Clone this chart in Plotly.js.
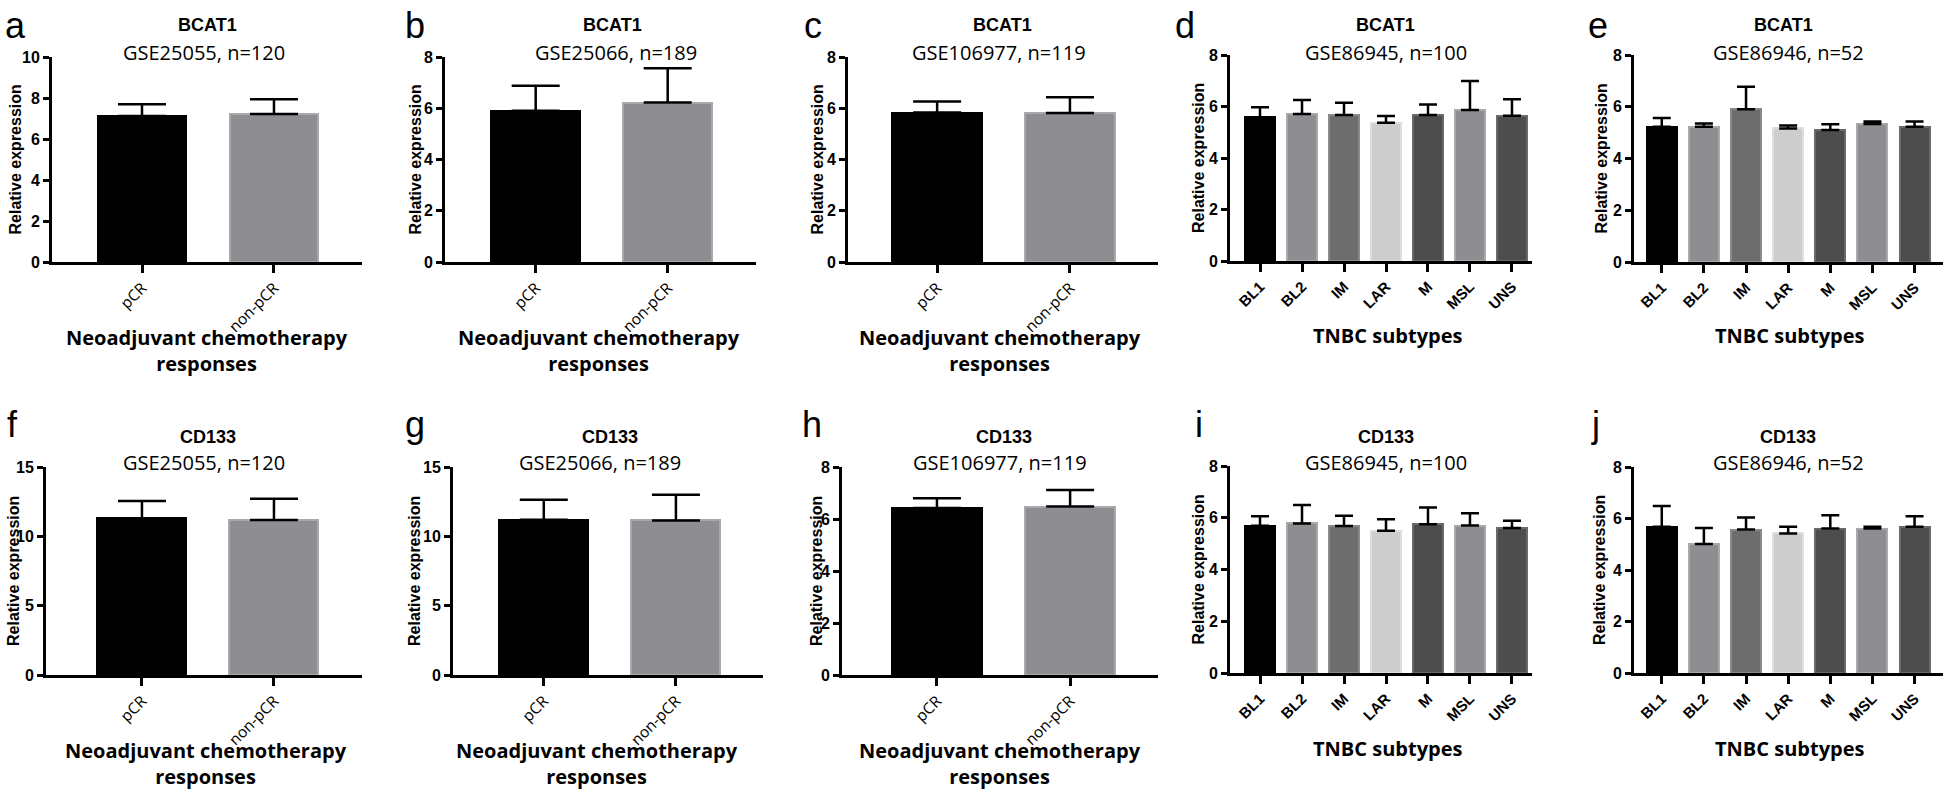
<!DOCTYPE html>
<html>
<head>
<meta charset="utf-8">
<script src="https://cdn.plot.ly/plotly-3.0.1.min.js"></script>
<style>html,body{margin:0;padding:0;background:#fff;}#chart{width:1946px;height:791px;}</style>
</head>
<body>
<div id="chart"></div>
<script>
// ---------------- DATA ----------------
const respCats = ['pCR', 'non-pCR'];
const tnbcCats = ['BL1', 'BL2', 'IM', 'LAR', 'M', 'MSL', 'UNS'];

// BCAT1
const bcatGSE25055Mean = [7.12, 7.22];
const bcatGSE25055SD   = [0.57, 0.72];
const bcatGSE25066Mean = [5.90, 6.22];
const bcatGSE25066SD   = [0.98, 1.34];
const bcatGSE106977Mean = [5.83, 5.81];
const bcatGSE106977SD   = [0.43, 0.62];
const bcatGSE86945Mean = [5.58, 5.71, 5.67, 5.37, 5.67, 5.86, 5.64];
const bcatGSE86945SD   = [0.39, 0.54, 0.48, 0.26, 0.41, 1.13, 0.64];
const bcatGSE86946Mean = [5.23, 5.23, 5.90, 5.16, 5.10, 5.33, 5.23];
const bcatGSE86946SD   = [0.34, 0.12, 0.87, 0.12, 0.22, 0.10, 0.20];

// CD133
const cdGSE25055Mean = [11.30, 11.18];
const cdGSE25055SD   = [1.25, 1.53];
const cdGSE25066Mean = [11.20, 11.15];
const cdGSE25066SD   = [1.44, 1.85];
const cdGSE106977Mean = [6.42, 6.48];
const cdGSE106977SD   = [0.38, 0.64];
const cdGSE86945Mean = [5.69, 5.78, 5.68, 5.50, 5.75, 5.70, 5.60];
const cdGSE86945SD   = [0.37, 0.71, 0.40, 0.44, 0.65, 0.47, 0.28];
const cdGSE86946Mean = [5.68, 5.01, 5.57, 5.42, 5.61, 5.61, 5.68];
const cdGSE86946SD   = [0.81, 0.62, 0.47, 0.26, 0.52, 0.07, 0.41];

const panelLetters = ['a','b','c','d','e','f','g','h','i','j'];
const geneNames = ['BCAT1','BCAT1','BCAT1','BCAT1','BCAT1','CD133','CD133','CD133','CD133','CD133'];
const datasetLabels = ['GSE25055, n=120','GSE25066, n=189','GSE106977, n=119','GSE86945, n=100','GSE86946, n=52',
                       'GSE25055, n=120','GSE25066, n=189','GSE106977, n=119','GSE86945, n=100','GSE86946, n=52'];
const yMax = [10, 8, 8, 8, 8, 15, 15, 8, 8, 8];
const yStep = [2, 2, 2, 2, 2, 5, 5, 2, 2, 2];
const respTitle = 'Neoadjuvant chemotherapy<br>responses';
const tnbcTitle = 'TNBC subtypes';
const yTitle = 'Relative expression';

const means = [bcatGSE25055Mean, bcatGSE25066Mean, bcatGSE106977Mean, bcatGSE86945Mean, bcatGSE86946Mean,
               cdGSE25055Mean, cdGSE25066Mean, cdGSE106977Mean, cdGSE86945Mean, cdGSE86946Mean];
const sds = [bcatGSE25055SD, bcatGSE25066SD, bcatGSE106977SD, bcatGSE86945SD, bcatGSE86946SD,
             cdGSE25055SD, cdGSE25066SD, cdGSE106977SD, cdGSE86945SD, cdGSE86946SD];
const isTnbc = [false,false,false,true,true,false,false,false,true,true];

// ---------------- STYLE / GEOMETRY ----------------
const W = 1946, H = 791;
// [x0, x1, yTop, yZero] in px
const geom = [
  [52, 362, 57, 262], [445, 756, 57, 262], [848, 1158, 57, 262], [1230, 1532, 55, 261], [1634, 1943, 55, 262],
  [46, 362, 467, 675], [453, 763, 467, 675], [842, 1158, 467, 675], [1230, 1532, 466, 673], [1634, 1943, 467, 673]
];
const xRanges = [
  [-0.682, 1.667], [-0.687, 1.669], [-0.671, 1.663], [-0.715, 6.477], [-0.659, 6.675],
  [-0.727, 1.667], [-0.687, 1.659], [-0.713, 1.66], [-0.715, 6.477], [-0.659, 6.675]
];
const letterPos = [[3,25],[403,25],[802,25],[1173,25],[1586,25],[5,425],[403,425],[800,425],[1193,425],[1589,425]];
const titlePos = [[207,25],[612,25],[1003,25],[1385,25],[1783,25],[208,437],[610,437],[1004,437],[1386,437],[1788,437]];
const subPos = [[204,52],[616,52],[999,52],[1386,52],[1788,52],[204,462],[600,462],[1000,462],[1386,462],[1788,462]];
const yTitleX = [15, 415, 817, 1198, 1601, 13, 414, 816, 1198, 1599];
const xTitlePos = [[207,351],[599,351],[1000,351],[1387,335],[1789,335],[206,763],[597,763],[1000,763],[1387,748],[1789,748]];

const respFill = ['#000000', '#8d8d92'];
const respLine = ['#000000', '#a9a9ac'];
const tnbcFill = ['#000000', '#8d8d92', '#6d6d6d', '#cdcdcd', '#4d4d4d', '#8d8d92', '#4d4d4d'];
const tnbcLine = ['#000000', '#a9a9ac', '#8a8a8a', '#dedede', '#6a6a6a', '#a9a9ac', '#6a6a6a'];

const ARIAL = 'Liberation Sans, Arial, sans-serif';
const CAL = 'Open Sans, Liberation Sans, sans-serif';

const traces = [];
const layout = {
  width: W, height: H,
  margin: {l: 0, r: 0, t: 0, b: 0},
  paper_bgcolor: '#ffffff', plot_bgcolor: '#ffffff',
  showlegend: false,
  annotations: [],
  bargap: 0
};

function px2x(p) { return p / W; }
function px2y(p) { return 1 - p / H; }

for (let i = 0; i < 10; i++) {
  const n = i + 1;
  const xa = 'x' + (n === 1 ? '' : n), ya = 'y' + (n === 1 ? '' : n);
  const cats = isTnbc[i] ? tnbcCats : respCats;
  traces.push({
    type: 'bar',
    x: cats, y: means[i],
    xaxis: xa, yaxis: ya,
    width: isTnbc[i] ? 0.715 : 0.674,
    marker: {color: isTnbc[i] ? tnbcFill : respFill,
             line: {color: isTnbc[i] ? tnbcLine : respLine, width: 2}},
    error_y: {type: 'data', symmetric: false, array: sds[i], arrayminus: sds[i].map(() => 0),
              color: '#000000', thickness: 2.5, width: isTnbc[i] ? 9 : 24},
    hoverinfo: 'x+y'
  });
  const g = geom[i];
  layout['xaxis' + (n === 1 ? '' : n)] = {
    domain: [px2x(g[0]), px2x(g[1])],
    anchor: ya,
    type: 'category',
    range: xRanges[i],
    showline: true, linecolor: '#000', linewidth: 3,
    ticks: 'outside', ticklen: 8, tickwidth: 2.5, tickcolor: '#000',
    tickangle: -45,
    tickfont: isTnbc[i] ? {family: ARIAL, size: 15, color: '#000', weight: 'bold'}
                        : {family: CAL, size: 15.5, color: '#000'},
    showgrid: false, zeroline: false, fixedrange: true
  };
  layout['yaxis' + (n === 1 ? '' : n)] = {
    domain: [px2y(g[3]), px2y(g[2])],
    anchor: xa,
    range: [0, yMax[i]],
    dtick: yStep[i], tick0: 0,
    showline: true, linecolor: '#000', linewidth: 3,
    ticks: 'outside', ticklen: 6, tickwidth: 2.5, tickcolor: '#000',
    tickfont: {family: ARIAL, size: 16, color: '#000', weight: 'bold'},
    showgrid: false, zeroline: false, fixedrange: true
  };
  // panel letter
  layout.annotations.push({xref: 'paper', yref: 'paper', x: px2x(letterPos[i][0]), y: px2y(letterPos[i][1]),
    xanchor: 'left', yanchor: 'middle', showarrow: false, text: panelLetters[i],
    font: {family: ARIAL, size: 36, color: '#000'}});
  // gene title
  layout.annotations.push({xref: 'paper', yref: 'paper', x: px2x(titlePos[i][0]), y: px2y(titlePos[i][1]),
    xanchor: 'center', yanchor: 'middle', showarrow: false, text: geneNames[i],
    font: {family: ARIAL, size: 18, color: '#000', weight: 'bold'}});
  // dataset subtitle
  layout.annotations.push({xref: 'paper', yref: 'paper', x: px2x(subPos[i][0]), y: px2y(subPos[i][1]),
    xanchor: 'center', yanchor: 'middle', showarrow: false, text: datasetLabels[i],
    font: {family: CAL, size: 20, color: '#000'}});
  // y title
  layout.annotations.push({xref: 'paper', yref: 'paper', x: px2x(yTitleX[i]), y: px2y((g[2] + g[3]) / 2),
    xanchor: 'center', yanchor: 'middle', showarrow: false, text: yTitle, textangle: -90,
    font: {family: ARIAL, size: 16, color: '#000', weight: 'bold'}});
  // x title
  layout.annotations.push({xref: 'paper', yref: 'paper', x: px2x(xTitlePos[i][0]), y: px2y(xTitlePos[i][1]),
    xanchor: 'center', yanchor: 'middle', showarrow: false, text: isTnbc[i] ? tnbcTitle : respTitle,
    font: {family: CAL, size: 20, color: '#000', weight: 'bold'}});
}

Plotly.newPlot('chart', traces, layout, {displayModeBar: false, staticPlot: false});
</script>
</body>
</html>
